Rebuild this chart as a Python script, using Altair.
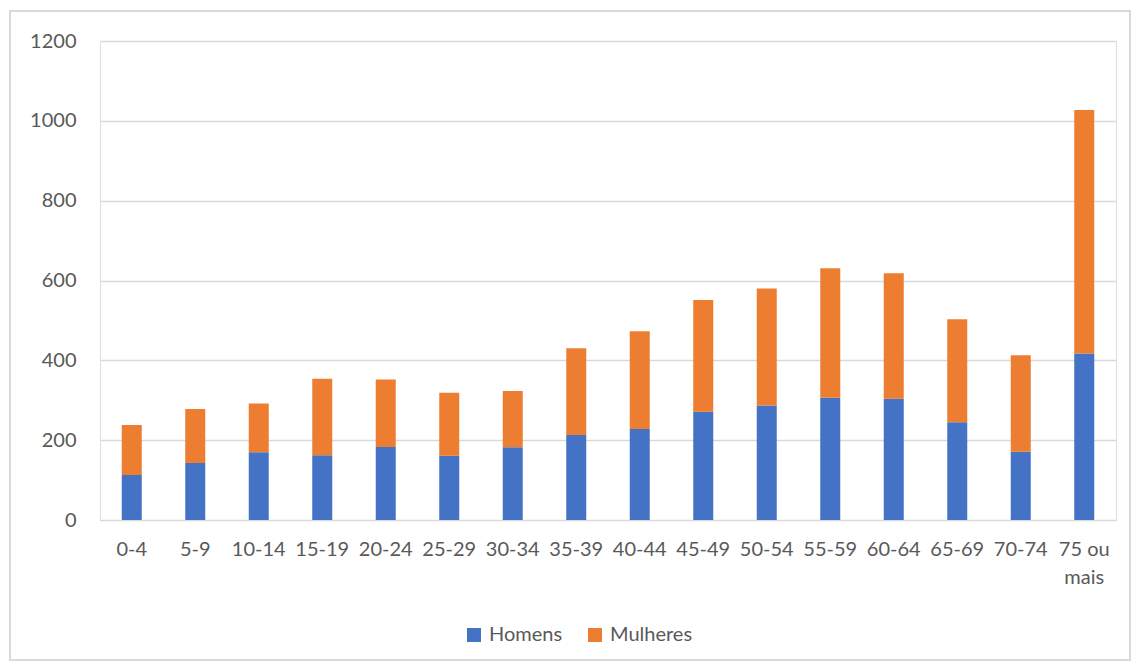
import altair as alt
import pandas as pd

faixas = ["0-4", "5-9", "10-14", "15-19", "20-24", "25-29", "30-34", "35-39",
          "40-44", "45-49", "50-54", "55-59", "60-64", "65-69", "70-74", "75 ou mais"]
homens = [113, 143, 170, 162, 183, 161, 182, 213, 228, 271, 287, 306, 304, 245, 171, 417]
totais = [238, 278, 292, 354, 352, 319, 323, 430, 473, 551, 580, 631, 618, 503, 413, 1027]
mulheres = [t - h for t, h in zip(totais, homens)]
series = ["Homens", "Mulheres"]
cores = ["#4472C4", "#ED7D31"]

rows = []
for f, h, m in zip(faixas, homens, mulheres):
    rows.append({"faixa": f, "sexo": "Homens", "valor": h, "ordem": 0})
    rows.append({"faixa": f, "sexo": "Mulheres", "valor": m, "ordem": 1})
df = pd.DataFrame(rows)

FONT = "Lato"
GREY = "#595959"

bars = alt.Chart(df).mark_bar().encode(
    x=alt.X("faixa:N", sort=faixas,
            scale=alt.Scale(paddingInner=0.685, paddingOuter=0.3425),
            axis=alt.Axis(title=None, labelAngle=0, domain=False, ticks=False,
                          labelPadding=19, labelFont=FONT, labelFontSize=20,
                          labelColor=GREY, labelLineHeight=28,
                          labelExpr="datum.label == '75 ou mais' ? ['75 ou', 'mais'] : datum.label")),
    y=alt.Y("valor:Q", stack="zero",
            scale=alt.Scale(domain=[0, 1200], nice=False),
            axis=alt.Axis(title=None, values=[0, 200, 400, 600, 800, 1000, 1200],
                          format="d",
                          domain=False, ticks=False, labelPadding=24,
                          labelFont=FONT, labelFontSize=20, labelColor=GREY,
                          gridColor="#d9d9d9", gridWidth=1.5)),
    color=alt.Color("sexo:N", scale=alt.Scale(domain=series, range=cores),
                    legend=alt.Legend(title=None, orient="none", direction="horizontal",
                                      legendX=364, legendY=584,
                                      symbolType="square", symbolSize=196,
                                      symbolStrokeWidth=0, symbolOpacity=1,
                                      labelFont=FONT, labelFontSize=20, labelColor=GREY,
                                      labelOffset=5, columnPadding=22)),
    order=alt.Order("ordem:Q"),
)

border = alt.Chart(df).mark_rect(fill=None, stroke="#d9d9d9", strokeWidth=1.5).encode(
    x=alt.value(-90), x2=alt.value(1030), y=alt.value(-30), y2=alt.value(619)
)

chart = alt.layer(border, bars).properties(
    width=1016, height=479,
    autosize=alt.AutoSizeParams(type="none"),
    padding={"left": 100, "top": 41, "right": 18, "bottom": 143},
).configure_view(stroke=None).configure(background="white")

chart.save("out.html", embed_options={"renderer": "svg", "actions": False})
